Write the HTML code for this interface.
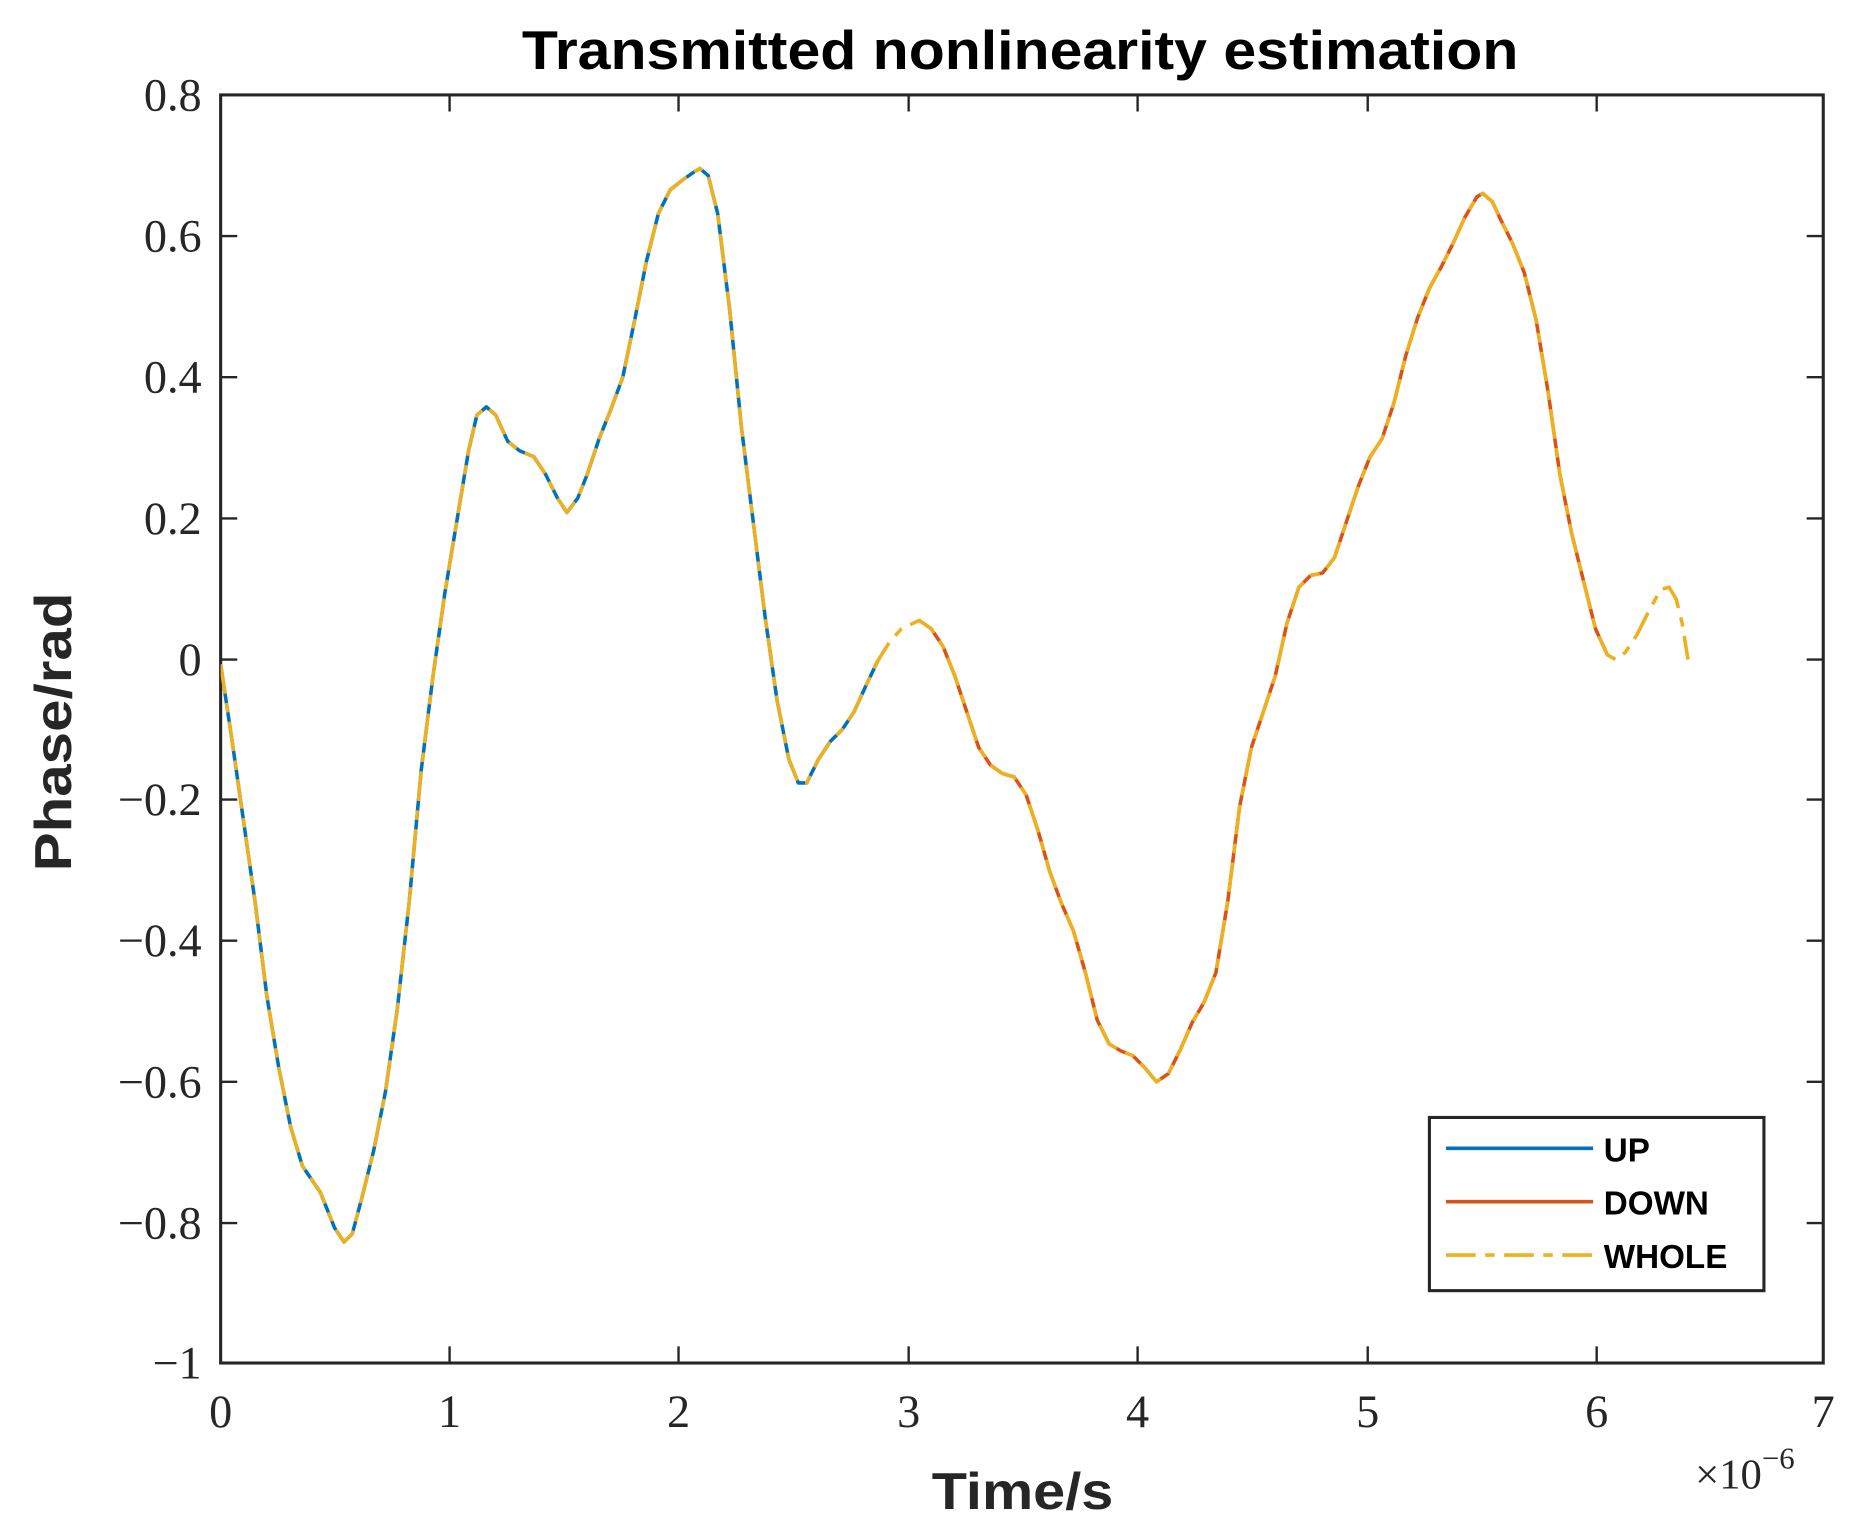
<!DOCTYPE html>
<html><head><meta charset="utf-8"><style>html,body{margin:0;padding:0;background:#fff}svg{display:block}</style></head>
<body>
<svg width="1851" height="1531" viewBox="0 0 1560.4 1290.6" xmlns="http://www.w3.org/2000/svg">
<rect width="1560.4" height="1290.6" fill="#fff"/>
<text x="860" y="58" font-family="Liberation Sans, sans-serif" font-weight="bold" font-size="46" text-anchor="middle" textLength="840" lengthAdjust="spacingAndGlyphs" fill="#000">Transmitted nonlinearity estimation</text>
<defs><clipPath id="c"><rect x="186" y="80" width="1351" height="1069"/></clipPath></defs>
<g stroke="#262626" stroke-width="2.6" fill="none">
<rect x="186" y="80" width="1351" height="1069"/>
<path stroke-width="2" d="M379,1149v-14M572,1149v-14M766,1149v-14M959,1149v-14M1153,1149v-14M1346,1149v-14M379,80v14M572,80v14M766,80v14M959,80v14M1153,80v14M1346,80v14
M186,199h14M186,318h14M186,437h14M186,556h14M186,674h14M186,793h14M186,912h14M186,1031h14
M1537,199h-14M1537,318h-14M1537,437h-14M1537,556h-14M1537,674h-14M1537,793h-14M1537,912h-14M1537,1031h-14"/>
</g>
<g font-family="Liberation Serif, serif" font-size="39" fill="#262626" text-anchor="end">
<text x="170" y="93">0.8</text><text x="170" y="212">0.6</text><text x="170" y="331">0.4</text><text x="170" y="450">0.2</text><text x="170" y="569">0</text><text x="170" y="687">−0.2</text><text x="170" y="806">−0.4</text><text x="170" y="925">−0.6</text><text x="170" y="1044">−0.8</text><text x="170" y="1162">−1</text>
</g>
<g font-family="Liberation Serif, serif" font-size="39" fill="#262626" text-anchor="middle">
<text x="186" y="1203">0</text><text x="379" y="1203">1</text><text x="572" y="1203">2</text><text x="766" y="1203">3</text><text x="959" y="1203">4</text><text x="1153" y="1203">5</text><text x="1346" y="1203">6</text><text x="1537" y="1203">7</text>
</g>
<text x="1429" y="1255" font-family="Liberation Serif, serif" font-size="36" fill="#262626">×10<tspan font-size="26" dy="-17">−6</tspan></text>
<text x="862" y="1272" font-family="Liberation Sans, sans-serif" font-weight="bold" font-size="44" fill="#262626" text-anchor="middle" textLength="153" lengthAdjust="spacingAndGlyphs">Time/s</text>
<text transform="translate(60,617) rotate(-90)" font-family="Liberation Sans, sans-serif" font-weight="bold" font-size="44" fill="#262626" text-anchor="middle" textLength="235" lengthAdjust="spacingAndGlyphs">Phase/rad</text>
<g clip-path="url(#c)" fill="none" stroke-width="3" stroke-linejoin="round">
<polyline stroke="#0072BD" points="186,560 195,620 205,690 215,760 225,840 235,900 245,950 255,983 270,1005 282,1035 290,1047 297,1040 305,1010 315,970 325,920 335,850 345,760 355,650 365,570 375,500 385,440 395,380 402,350 410,343 418,350 428,372 438,380 450,385 460,400 470,420 478,432 487,420 495,400 505,370 515,345 525,318 535,270 545,220 555,180 565,160 575,152 585,145 590,142 597,148 605,180 615,260 625,360 635,440 645,520 655,590 665,640 673,660 680,660 690,640 700,625 710,615 720,600 730,578 740,557"/>
<polyline stroke="#D95319" points="775,523 785,530 795,545 805,570 815,600 825,630 835,645 845,652 855,655 865,670 875,700 885,735 895,762 905,785 915,820 925,860 935,880 945,886 955,890 965,900 975,912 985,905 995,885 1005,862 1015,845 1025,820 1035,760 1045,680 1055,630 1065,600 1075,570 1085,525 1095,495 1105,485 1115,483 1125,470 1135,440 1145,410 1155,385 1165,370 1175,340 1185,300 1195,268 1205,243 1215,225 1225,205 1235,183 1245,166 1250,163 1258,170 1265,185 1275,205 1285,230 1295,270 1305,330 1315,400 1325,450 1335,490 1345,530 1355,552"/>
<polyline stroke="#EDB120" stroke-dasharray="25,8,8,8" points="186,560 195,620 205,690 215,760 225,840 235,900 245,950 255,983 270,1005 282,1035 290,1047 297,1040 305,1010 315,970 325,920 335,850 345,760 355,650 365,570 375,500 385,440 395,380 402,350 410,343 418,350 428,372 438,380 450,385 460,400 470,420 478,432 487,420 495,400 505,370 515,345 525,318 535,270 545,220 555,180 565,160 575,152 585,145 590,142 597,148 605,180 615,260 625,360 635,440 645,520 655,590 665,640 673,660 680,660 690,640 700,625 710,615 720,600 730,578 740,557 750,541 760,530 775,523 785,530 795,545 805,570 815,600 825,630 835,645 845,652 855,655 865,670 875,700 885,735 895,762 905,785 915,820 925,860 935,880 945,886 955,890 965,900 975,912 985,905 995,885 1005,862 1015,845 1025,820 1035,760 1045,680 1055,630 1065,600 1075,570 1085,525 1095,495 1105,485 1115,483 1125,470 1135,440 1145,410 1155,385 1165,370 1175,340 1185,300 1195,268 1205,243 1215,225 1225,205 1235,183 1245,166 1250,163 1258,170 1265,185 1275,205 1285,230 1295,270 1305,330 1315,400 1325,450 1335,490 1345,530 1355,552 1362,556 1370,550 1380,535 1390,515 1400,497 1407,495 1413,505 1418,525 1423,556"/>
</g>
<rect x="1205" y="942" width="282" height="146" fill="#fff" stroke="#262626" stroke-width="2.6"/>
<g stroke-width="3">
<line x1="1219" y1="968" x2="1343" y2="968" stroke="#0072BD"/>
<line x1="1219" y1="1013" x2="1343" y2="1013" stroke="#D95319"/>
<line x1="1219" y1="1058" x2="1343" y2="1058" stroke="#EDB120" stroke-dasharray="25,8,8,8"/>
</g>
<g font-family="Liberation Sans, sans-serif" font-weight="bold" font-size="28" fill="#000">
<text x="1352" y="979">UP</text><text x="1352" y="1024">DOWN</text><text x="1352" y="1069">WHOLE</text>
</g>
</svg>
</body></html>
